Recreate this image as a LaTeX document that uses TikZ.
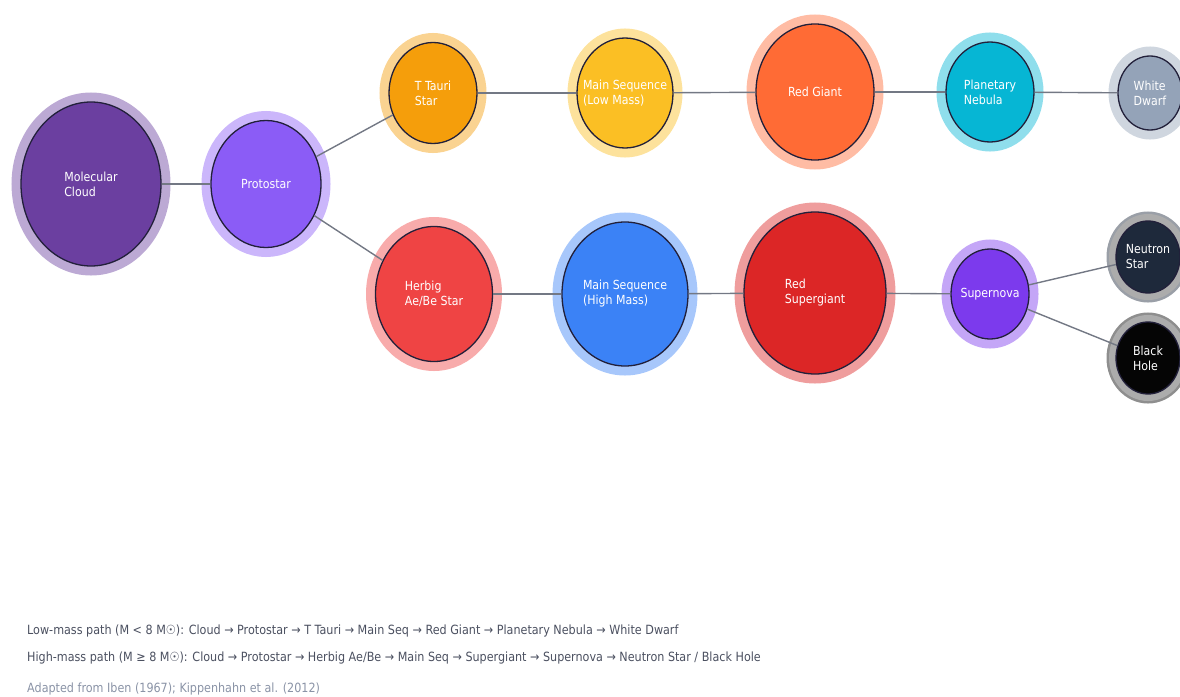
\documentclass[tikz,border=0pt]{standalone}
\usepackage{fontspec}
\setmainfont{DejaVu Sans}[FakeStretch=0.88]
\usetikzlibrary{shapes.geometric}
\definecolor{cCloud}{HTML}{6B3FA0}
\definecolor{cProto}{HTML}{8B5CF6}
\definecolor{cTTauri}{HTML}{F59E0B}
\definecolor{cMSL}{HTML}{FBBF24}
\definecolor{cRG}{HTML}{FF6B35}
\definecolor{cPN}{HTML}{06B6D4}
\definecolor{cWD}{HTML}{94A3B8}
\definecolor{cHerbig}{HTML}{EF4444}
\definecolor{cMSH}{HTML}{3B82F6}
\definecolor{cRSG}{HTML}{DC2626}
\definecolor{cSN}{HTML}{7C3AED}
\definecolor{cNS}{HTML}{1E293B}
\definecolor{cBH}{HTML}{050505}
\definecolor{cEdge}{HTML}{737884}
\definecolor{cRim}{HTML}{22203A}
\definecolor{cText}{HTML}{4B5060}
\definecolor{cNote}{HTML}{8A93A6}
\tikzset{
  stage/.style args={#1/#2/#3}{ellipse, inner xsep=-16pt, inner ysep=-10pt, minimum width=#1, minimum height=#2,
    fill=#3, draw=cRim, line width=1.3pt, text=white, align=left,
    font=\fontsize{12.5}{15}\selectfont,
    preaction={draw=#3!45, line width=19pt}},
  darkstage/.style args={#1/#2/#3}{stage={#1/#2/#3}, preaction={draw=gray!65, line width=14pt}},
  link/.style={draw=cEdge, line width=1.4pt},
  caption/.style={anchor=west, text=cText, font=\fontsize{12.7}{14}\selectfont, inner sep=0pt},
}
\begin{document}
\begin{tikzpicture}[x=1pt,y=-1pt]
\useasboundingbox (0,0) rectangle (1180,696);
\node[stage={140pt/164pt/cCloud}] (cloud) at (91,184) {Molecular\\Cloud};
\node[stage={110pt/127pt/cProto}] (proto) at (266,184) {Protostar};
\node[stage={88pt/101pt/cTTauri}] (ttauri) at (433,93) {T Tauri\\Star};
\node[stage={96pt/110pt/cMSL}] (msl) at (625,93) {Main Sequence\\(Low Mass)};
\node[stage={118pt/136pt/cRG}] (rg) at (815,92) {Red Giant};
\node[stage={88pt/100pt/cPN}] (pn) at (990,92) {Planetary\\Nebula};
\node[stage={64pt/74pt/cWD}] (wd) at (1150,93) {White\\Dwarf};
\node[stage={117pt/135pt/cHerbig}] (herbig) at (434,294) {Herbig\\Ae/Be Star};
\node[stage={126pt/144pt/cMSH}] (msh) at (625,294) {Main Sequence\\(High Mass)};
\node[stage={142pt/162pt/cRSG}] (rsg) at (815,293) {Red\\Supergiant};
\node[stage={78pt/90pt/cSN}] (sn) at (990,294) {Supernova};
\node[darkstage={64pt/72pt/cNS}] (ns) at (1148,257) {Neutron\\Star};
\node[darkstage={64pt/72pt/cBH}] (bh) at (1148,358) {Black\\Hole};
\draw[link] (cloud) -- (proto);
\draw[link] (proto) -- (ttauri);
\draw[link] (proto) -- (herbig);
\draw[link] (ttauri) -- (msl);
\draw[link] (msl) -- (rg);
\draw[link] (rg) -- (pn);
\draw[link] (pn) -- (wd);
\draw[link] (herbig) -- (msh);
\draw[link] (msh) -- (rsg);
\draw[link] (rsg) -- (sn);
\draw[link] (sn) -- (ns);
\draw[link] (sn) -- (bh);
\node[caption] (low) at (27,631) {Low-mass path (M < 8 M☉): Cloud → Protostar → T Tauri → Main Seq → Red Giant → Planetary Nebula → White Dwarf};
\node[caption] (high) at (27,658) {High-mass path (M ≥ 8 M☉): Cloud → Protostar → Herbig Ae/Be → Main Seq → Supergiant → Supernova → Neutron Star / Black Hole};
\node[caption, text=cNote] (src) at (27,689) {Adapted from Iben (1967); Kippenhahn et al. (2012)};
\end{tikzpicture}
\end{document}
